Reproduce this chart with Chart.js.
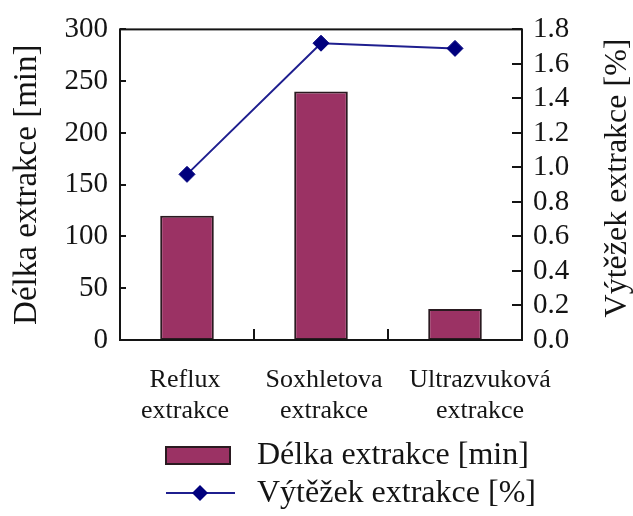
<!DOCTYPE html>
<html>
<head>
<meta charset="utf-8">
<script src="https://cdn.jsdelivr.net/npm/chart.js@4"></script>
<style>
  html, body { margin: 0; padding: 0; background: #fff; }
  #wrap { width: 633px; height: 516px; }
</style>
</head>
<body>
<div id="wrap"><canvas id="c" width="633" height="516"></canvas></div>
<script>
// Categories (two-line labels) and the two series
const categories = [
  ["Reflux", "extrakce"],
  ["Soxhletova", "extrakce"],
  ["Ultrazvuková", "extrakce"]
];
const durationMin = [120, 240, 30];        // Délka extrakce [min]
const yieldPct = [0.96, 1.72, 1.69];       // Výtěžek extrakce [%]

const durationLabel = "Délka extrakce [min]";
const yieldLabel = "Výtěžek extrakce [%]";

const SERIF = "'Liberation Serif', 'DejaVu Serif', serif";
const INK = "#141414";
const BAR_FILL = "#9b3264";
const BAR_EDGE = "#2a1a20";
const LINE_COLOR = "#1f1f8f";
const POINT_COLOR = "#00007d";

// horizontal nudges of the category captions relative to their tick
const captionShift = [-2, 3, 25];

// Frame around the plot area plus inward tick marks
const frameAndTicks = {
  id: 'frameAndTicks',
  afterDatasetsDraw(chart) {
    const { ctx, chartArea: a, scales } = chart;
    ctx.save();
    ctx.strokeStyle = INK;
    ctx.lineWidth = 2;
    ctx.strokeRect(a.left, a.top, a.right - a.left, a.bottom - a.top);
    ctx.beginPath();
    scales.y.ticks.forEach((t, i) => {
      const py = Math.round(scales.y.getPixelForTick(i));
      ctx.moveTo(a.left, py); ctx.lineTo(a.left + 6, py);
    });
    scales.y1.ticks.forEach((t, i) => {
      const py = Math.round(scales.y1.getPixelForTick(i));
      ctx.moveTo(a.right, py); ctx.lineTo(a.right - 10, py);
    });
    const xs = scales.x;
    for (let i = 1; i < categories.length; i++) {
      const px = Math.round((xs.getPixelForTick(i - 1) + xs.getPixelForTick(i)) / 2);
      ctx.moveTo(px, a.bottom); ctx.lineTo(px, a.bottom - 11);
    }
    ctx.stroke();

    // two-line category captions under the axis
    ctx.fillStyle = INK;
    ctx.font = "26px " + SERIF;
    ctx.textAlign = "center";
    ctx.textBaseline = "middle";
    chart.data.labels.forEach((lines, i) => {
      const px = xs.getPixelForTick(i) + captionShift[i];
      lines.forEach((txt, j) => ctx.fillText(txt, px, a.bottom + 40 + j * 31));
    });
    ctx.restore();
  }
};

// Right axis title reading bottom-to-top, and the stacked legend below the axis
const titleAndLegend = {
  id: 'titleAndLegend',
  afterDraw(chart) {
    const { ctx } = chart;
    const bar = chart.data.datasets[0];
    const line = chart.data.datasets[1];
    ctx.save();
    ctx.fillStyle = INK;
    ctx.font = "32px " + SERIF;
    ctx.textAlign = "center";
    ctx.textBaseline = "middle";
    ctx.translate(618, 178);
    ctx.rotate(-Math.PI / 2);
    ctx.fillText(line.label, 0, 0);
    ctx.restore();

    ctx.save();
    // bar swatch
    ctx.fillStyle = bar.backgroundColor;
    ctx.strokeStyle = bar.borderColor;
    ctx.lineWidth = 2;
    ctx.fillRect(166, 447, 64, 17);
    ctx.strokeRect(166, 447, 64, 17);
    // line swatch with diamond marker
    ctx.strokeStyle = line.borderColor;
    ctx.lineWidth = 2;
    ctx.beginPath();
    ctx.moveTo(166, 493); ctx.lineTo(235, 493);
    ctx.stroke();
    ctx.fillStyle = line.pointBackgroundColor;
    ctx.beginPath();
    const r = 8, cx = 200, cy = 493;
    ctx.moveTo(cx, cy - r); ctx.lineTo(cx + r, cy); ctx.lineTo(cx, cy + r); ctx.lineTo(cx - r, cy);
    ctx.closePath();
    ctx.fill();
    // texts
    ctx.fillStyle = INK;
    ctx.font = "32px " + SERIF;
    ctx.textAlign = "left";
    ctx.textBaseline = "middle";
    ctx.fillText(bar.label, 257, 456);
    ctx.fillText(line.label, 257, 494);
    ctx.restore();
  }
};

new Chart(document.getElementById('c'), {
  data: {
    labels: categories,
    datasets: [
      {
        type: 'bar',
        label: durationLabel,
        data: durationMin,
        yAxisID: 'y',
        backgroundColor: BAR_FILL,
        borderColor: BAR_EDGE,
        borderWidth: 2,
        borderSkipped: false,
        barPercentage: 0.4,
        categoryPercentage: 1.0,
        order: 1
      },
      {
        type: 'line',
        label: yieldLabel,
        data: yieldPct,
        yAxisID: 'y1',
        borderColor: LINE_COLOR,
        borderWidth: 2,
        pointStyle: 'rectRot',
        pointRadius: 8,
        pointBackgroundColor: POINT_COLOR,
        pointBorderColor: POINT_COLOR,
        pointBorderWidth: 1,
        tension: 0,
        order: 0
      }
    ]
  },
  options: {
    responsive: false,
    devicePixelRatio: 1,
    animation: false,
    layout: { padding: { top: 27, left: 0, right: 0, bottom: 0 } },
    plugins: {
      legend: { display: false },
      tooltip: { enabled: false }
    },
    scales: {
      x: {
        type: 'category',
        offset: true,
        grid: { display: false, drawTicks: false },
        border: { display: false },
        ticks: { display: false },
        afterFit(s) { s.height = 176; }
      },
      y: {
        position: 'left',
        min: 0,
        max: 300,
        grid: { display: false, drawTicks: false },
        border: { display: false },
        ticks: {
          stepSize: 50,
          autoSkip: false,
          color: INK,
          font: { family: SERIF, size: 29 },
          padding: 12
        },
        title: {
          display: true,
          text: durationLabel,
          color: INK,
          font: { family: SERIF, size: 33 },
          padding: { top: 8, bottom: 0 }
        },
        afterFit(s) { s.width = 120; }
      },
      y1: {
        position: 'right',
        min: 0,
        max: 1.8,
        grid: { display: false, drawTicks: false },
        border: { display: false },
        ticks: {
          stepSize: 0.2,
          autoSkip: false,
          color: INK,
          font: { family: SERIF, size: 29 },
          padding: 11,
          callback: (v) => Number(v).toFixed(1)
        },
        afterFit(s) { s.width = 111; }
      }
    }
  },
  plugins: [frameAndTicks, titleAndLegend]
});
</script>
</body>
</html>
